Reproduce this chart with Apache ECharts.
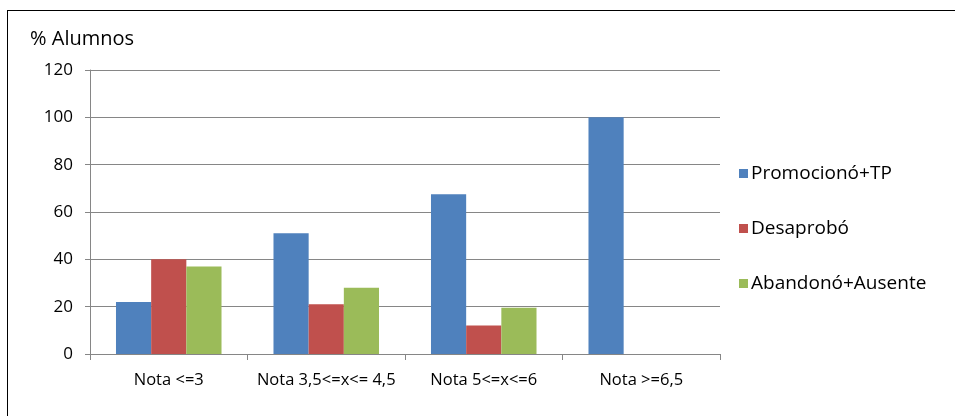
<!DOCTYPE html>
<html><head><meta charset="utf-8">
<script src="https://cdn.jsdelivr.net/npm/echarts@6/dist/echarts.min.js"></script>
<style>
html,body{margin:0;padding:0;background:#fff;}
#frame{position:absolute;left:7px;top:10px;width:960px;height:420px;border:1px solid #000;box-sizing:border-box;}
#c{position:absolute;left:0;top:0;width:955px;height:416px;}
</style></head>
<body>
<div id="frame"></div>
<div id="c"></div>
<script>
const categories = ['Nota <=3', 'Nota 3,5<=x<= 4,5', 'Nota 5<=x<=6', 'Nota >=6,5'];
const promociono = [22, 51, 67.5, 100];
const desaprobo = [40, 21, 12, null];
const abandono = [37, 28, 19.5, null];
const seriesNames = ['Promocionó+TP', 'Desaprobó', 'Abandonó+Ausente'];
const colors = ['#4F81BD', '#C0504D', '#9BBB59'];

const chart = echarts.init(document.getElementById('c'));
const font = 'Open Sans, DejaVu Sans, sans-serif';
chart.setOption({
  animation: false,
  color: colors,
  textStyle: {fontFamily: font},
  title: {text: '% Alumnos', left: 25, top: 24, textStyle: {fontSize: 20, fontWeight: 'normal', color: '#000', fontFamily: font}},
  legend: {
    orient: 'vertical', left: 734, top: 159, itemGap: 36,
    itemWidth: 9, itemHeight: 9, icon: 'rect',
    textStyle: {fontSize: 19, color: '#000', fontFamily: font, padding: [0,0,0,-2]},
    data: seriesNames
  },
  grid: {left: 90, right: 235, top: 70, bottom: 62},
  xAxis: {
    type: 'category', data: categories,
    axisLine: {lineStyle: {color: '#868686'}},
    axisTick: {show: true, alignWithLabel: false, length: 6, lineStyle: {color: '#868686'}},
    axisLabel: {interval: 0, hideOverlap: false, fontSize: 16.5, color: '#000', margin: 18, fontFamily: font}
  },
  yAxis: {
    type: 'value', min: 0, max: 120, interval: 20,
    axisLine: {show: true, lineStyle: {color: '#868686'}},
    axisTick: {show: true, length: 5, lineStyle: {color: '#868686'}},
    splitLine: {lineStyle: {color: '#868686'}},
    axisLabel: {fontSize: 17, color: '#000', margin: 17, fontFamily: font}
  },
  series: [
    {name: seriesNames[0], type: 'bar', data: promociono, barGap: '0%', barCategoryGap: '33%'},
    {name: seriesNames[1], type: 'bar', data: desaprobo, barGap: '0%', barCategoryGap: '33%'},
    {name: seriesNames[2], type: 'bar', data: abandono, barGap: '0%', barCategoryGap: '33%'}
  ]
});
</script>
</body></html>
